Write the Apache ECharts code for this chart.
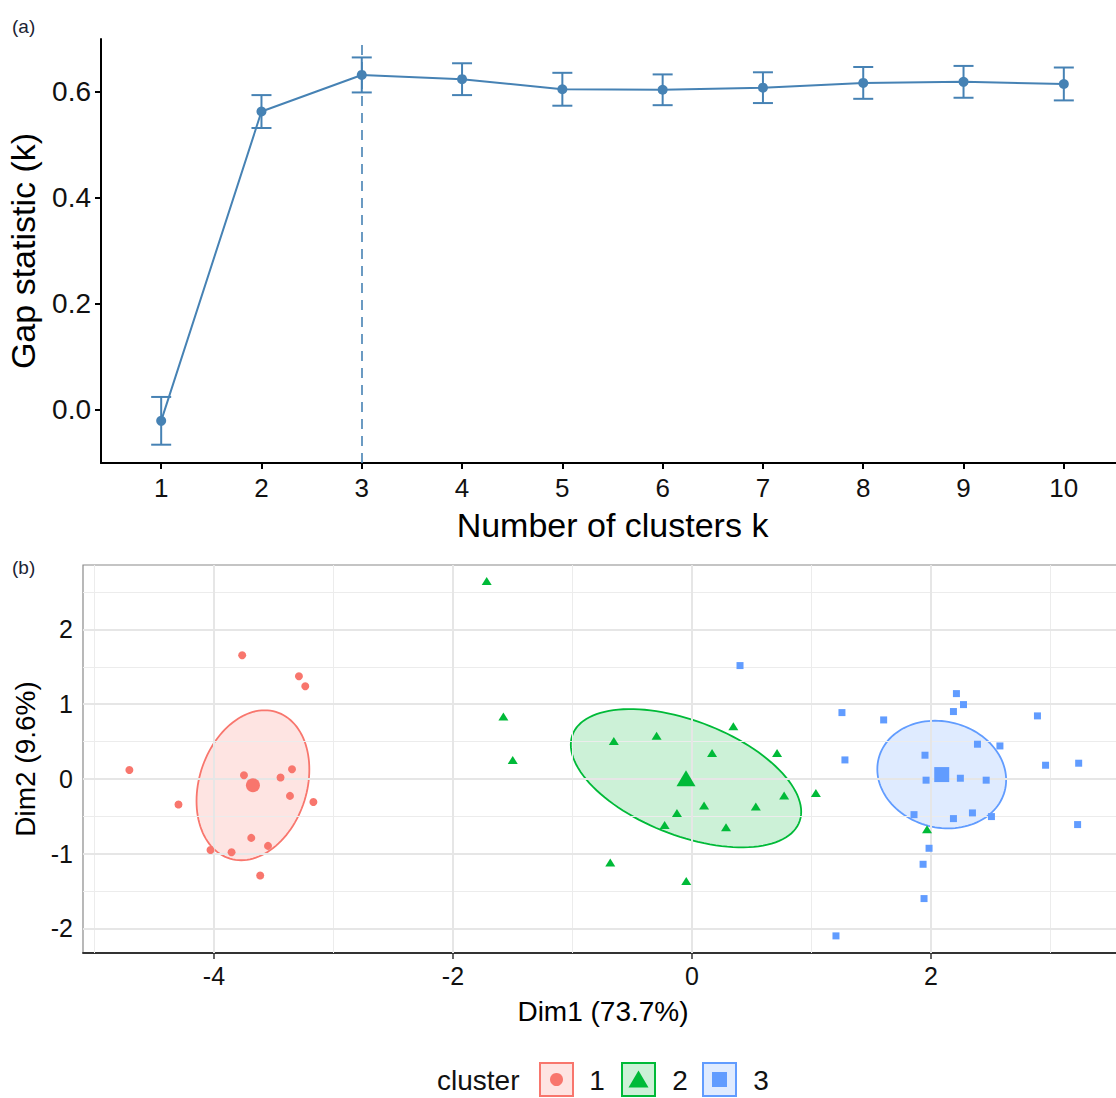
<!DOCTYPE html>
<html><head><meta charset="utf-8">
<script src="https://cdn.jsdelivr.net/npm/echarts@6/dist/echarts.min.js"></script>
<style>html,body{margin:0;padding:0;background:#fff}#c{width:1116px;height:1098px}</style>
</head><body><div id="c"></div>
<script>
// ---------- Panel (a): gap statistic ----------
const kValues = [1, 2, 3, 4, 5, 6, 7, 8, 9, 10];
const gapValues = [-0.021, 0.562, 0.631, 0.623, 0.604, 0.603, 0.607, 0.616, 0.618, 0.614];
const gapSE = [0.045, 0.031, 0.033, 0.030, 0.031, 0.029, 0.029, 0.030, 0.030, 0.031];
const optimalK = 3;
const gapYTicks = [0.0, 0.2, 0.4, 0.6];

// ---------- Panel (b): cluster plot ----------
const cluster1X = [-3.764, -3.289, -3.236, -4.708, -3.749, -3.443, -3.347, -3.364, -3.168, -4.297, -3.688, -3.548, -4.029, -3.853, -3.613];
const cluster1Y = [1.655, 1.374, 1.240, 0.120, 0.049, 0.018, 0.129, -0.227, -0.308, -0.343, -0.789, -0.896, -0.950, -0.981, -1.293];
const cluster2X = [-1.718, -1.578, -1.500, -0.654, -0.296, 0.346, 0.168, 0.712, 0.771, 1.037, 0.534, 0.101, -0.126, -0.229, 0.285, -0.684, -0.048, 1.967];
const cluster2Y = [2.649, 0.834, 0.254, 0.508, 0.579, 0.705, 0.348, 0.348, -0.223, -0.187, -0.370, -0.357, -0.455, -0.615, -0.646, -1.119, -1.365, -0.673];
const cluster3X = [2.213, 2.272, 2.188, 1.255, 1.604, 2.891, 2.389, 2.577, 1.950, 1.280, 1.959, 2.246, 2.462, 2.959, 3.236, 1.858, 2.188, 2.347, 2.506, 3.227, 1.984, 1.934, 1.942, 1.205, 0.402];
const cluster3Y = [1.141, 0.994, 0.901, 0.887, 0.789, 0.843, 0.464, 0.441, 0.317, 0.254, -0.017, 0.009, -0.017, 0.183, 0.210, -0.478, -0.531, -0.455, -0.504, -0.611, -0.928, -1.142, -1.601, -2.100, 1.516];
const clusterNames = ['1', '2', '3'];
const centroidX = [-3.674, -0.050, 2.090];
const centroidY = [-0.085, 0.009, 0.058];
const ellipseSX = [0.472, 0.964, 0.539];
const ellipseSY = [1.003, 0.925, 0.720];
const ellipseR = [0.21, -0.485, -0.10];
const dim1Ticks = [-4, -2, 0, 2];
const dim2Ticks = [-2, -1, 0, 1, 2];
const dim1Minor = [-5, -3, -1, 1, 3];
const dim2Minor = [-2.5, -1.5, -0.5, 0.5, 1.5, 2.5];

const FONT = '"Liberation Sans", Arial, Helvetica, sans-serif';
const steel = '#4682B4';
const colors = ['#F8766D', '#00BA38', '#619CFF'];
const fills = ['rgba(248,118,109,0.2)', 'rgba(0,186,56,0.2)', 'rgba(97,156,255,0.2)'];

const zip = (xs, ys) => xs.map((x, i) => [x, ys[i]]);
const clusterPts = [zip(cluster1X, cluster1Y), zip(cluster2X, cluster2Y), zip(cluster3X, cluster3Y)];
const symbols = ['circle', 'triangle', 'rect'];
const ptSizes = [8, [10, 8], 7];
const cenSizes = [14, [19, 16], 15];

const series = [];

// error bars
series.push({
  type: 'custom', xAxisIndex: 0, yAxisIndex: 0, z: 3, silent: true,
  data: kValues.map((k, i) => [k, gapValues[i] - gapSE[i], gapValues[i] + gapSE[i]]),
  encode: { x: 0, y: [1, 2] },
  renderItem: function (params, api) {
    const x = api.value(0);
    const lo = api.coord([x, api.value(1)]);
    const hi = api.coord([x, api.value(2)]);
    const w = 10;
    const st = { stroke: steel, lineWidth: 2 };
    return { type: 'group', children: [
      { type: 'line', shape: { x1: lo[0], y1: lo[1], x2: hi[0], y2: hi[1] }, style: st },
      { type: 'line', shape: { x1: lo[0] - w, y1: lo[1], x2: lo[0] + w, y2: lo[1] }, style: st },
      { type: 'line', shape: { x1: hi[0] - w, y1: hi[1], x2: hi[0] + w, y2: hi[1] }, style: st }
    ] };
  }
});
// gap line
series.push({
  type: 'line', xAxisIndex: 0, yAxisIndex: 0, z: 4,
  data: zip(kValues, gapValues),
  lineStyle: { color: steel, width: 2 },
  itemStyle: { color: steel },
  symbol: 'circle', symbolSize: 10, showSymbol: true,
  markLine: {
    silent: true, symbol: 'none', label: { show: false },
    lineStyle: { color: steel, width: 1.6, type: [10, 7] },
    data: [{ xAxis: optimalK }]
  }
});

// panel b grid lines (minor + major) via markLine
series.push({
  type: 'scatter', xAxisIndex: 1, yAxisIndex: 1, z: 0, data: [], silent: true,
  markLine: {
    silent: true, symbol: 'none', label: { show: false }, animation: false,
    data: [].concat(
      dim1Minor.map(v => ({ xAxis: v, lineStyle: { color: '#ECECEC', width: 1, type: 'solid' } })),
      dim2Minor.map(v => ({ yAxis: v, lineStyle: { color: '#ECECEC', width: 1, type: 'solid' } })),
      dim1Ticks.map(v => ({ xAxis: v, lineStyle: { color: '#E6E6E6', width: 2, type: 'solid' } })),
      dim2Ticks.map(v => ({ yAxis: v, lineStyle: { color: '#E6E6E6', width: 2, type: 'solid' } }))
    )
  }
});

// ellipses
series.push({
  type: 'custom', xAxisIndex: 1, yAxisIndex: 1, z: 2, silent: true,
  data: centroidX.map((cx, i) => [cx, centroidY[i], ellipseSX[i], ellipseSY[i], ellipseR[i], i]),
  encode: { x: 0, y: 1 },
  renderItem: function (params, api) {
    const cx = api.value(0), cy = api.value(1), sx = api.value(2), sy = api.value(3), r = api.value(4), idx = api.value(5);
    const pts = [];
    const q = Math.sqrt(1 - r * r);
    for (let j = 0; j < 120; j++) {
      const t = j / 120 * Math.PI * 2;
      pts.push(api.coord([cx + sx * Math.cos(t), cy + sy * (r * Math.cos(t) + q * Math.sin(t))]));
    }
    return { type: 'polygon', shape: { points: pts },
      style: { fill: fills[idx], stroke: colors[idx], lineWidth: 1.8 } };
  }
});

// points
for (let c = 0; c < 3; c++) {
  series.push({
    type: 'scatter', xAxisIndex: 1, yAxisIndex: 1, z: 5, name: clusterNames[c],
    data: clusterPts[c], symbol: symbols[c], symbolSize: ptSizes[c],
    itemStyle: { color: colors[c], opacity: 1 }
  });
  series.push({
    type: 'scatter', xAxisIndex: 1, yAxisIndex: 1, z: 6,
    data: [[centroidX[c], centroidY[c]]], symbol: symbols[c], symbolSize: cenSizes[c],
    itemStyle: { color: colors[c], opacity: 1 }
  });
}

const legendGraphics = [
  { type: 'text', x: 437, y: 1080, style: { text: 'cluster', font: '28px ' + FONT, fill: '#111', align: 'left', verticalAlign: 'middle' } }
];
const boxX = [540, 622, 703];
const numX = [597, 680, 761];
for (let c = 0; c < 3; c++) {
  const bx = boxX[c], cxm = bx + 16.5, cym = 1079.5;
  legendGraphics.push({ type: 'rect', shape: { x: bx, y: 1063, width: 33, height: 33 },
    style: { fill: fills[c], stroke: colors[c], lineWidth: 2 } });
  let sym;
  if (c === 0) sym = { type: 'circle', shape: { cx: cxm, cy: cym, r: 6.5 }, style: { fill: colors[c] } };
  else if (c === 1) sym = { type: 'polygon', shape: { points: [[cxm, cym - 9], [cxm + 10, cym + 8], [cxm - 10, cym + 8]] }, style: { fill: colors[c] } };
  else sym = { type: 'rect', shape: { x: cxm - 7.5, y: cym - 7.5, width: 15, height: 15 }, style: { fill: colors[c] } };
  legendGraphics.push(sym);
  legendGraphics.push({ type: 'text', x: numX[c], y: 1080, style: { text: clusterNames[c], font: '28px ' + FONT, fill: '#111', align: 'center', verticalAlign: 'middle' } });
}

const option = {
  animation: false,
  backgroundColor: '#fff',
  textStyle: { fontFamily: FONT },
  grid: [
    { left: 101, top: 39, width: 1023, height: 424, containLabel: false, outerBoundsMode: 'none' },
    { left: 83, top: 565, width: 1040, height: 388, containLabel: false, outerBoundsMode: 'none', show: true, borderColor: '#8a8a8a', borderWidth: 1.2, backgroundColor: 'transparent' }
  ],
  xAxis: [
    { gridIndex: 0, type: 'value', min: 0.4, max: 10.6,
      name: 'Number of clusters k', nameLocation: 'middle', nameGap: 45,
      nameTextStyle: { fontSize: 34, color: '#000', fontFamily: FONT },
      axisLine: { show: true, onZero: false, lineStyle: { color: '#000', width: 2 } },
      axisTick: { show: true, length: 6, lineStyle: { color: '#000', width: 2 }, customValues: kValues },
      axisLabel: { show: true, fontSize: 26, color: '#111', margin: 12, customValues: kValues, fontFamily: FONT },
      splitLine: { show: false } },
    { gridIndex: 1, type: 'value', min: -5.096, max: -5.096 + 1040 / 119.5,
      name: 'Dim1 (73.7%)', nameLocation: 'middle', nameGap: 44,
      nameTextStyle: { fontSize: 28, color: '#000', fontFamily: FONT },
      axisLine: { show: true, onZero: false, lineStyle: { color: '#333', width: 1.8 } },
      axisTick: { show: true, length: 6, lineStyle: { color: '#333', width: 1.5 }, customValues: dim1Ticks },
      axisLabel: { show: true, fontSize: 25, color: '#111', margin: 10, customValues: dim1Ticks, fontFamily: FONT },
      splitLine: { show: false } }
  ],
  yAxis: [
    { gridIndex: 0, type: 'value', min: -0.1005, max: -0.1005 + 424 / 530.5,
      name: 'Gap statistic (k)', nameLocation: 'middle', nameGap: 61,
      nameTextStyle: { fontSize: 34, color: '#000', fontFamily: FONT },
      axisLine: { show: true, onZero: false, lineStyle: { color: '#000', width: 2 } },
      axisTick: { show: true, length: 6, lineStyle: { color: '#000', width: 2 }, customValues: gapYTicks },
      axisLabel: { show: true, fontSize: 28, color: '#111', margin: 10, customValues: gapYTicks, fontFamily: FONT,
        formatter: v => (Math.abs(v) < 1e-9 ? 0 : v).toFixed(1) },
      splitLine: { show: false } },
    { gridIndex: 1, type: 'value', min: -2.329, max: -2.329 + 388 / 74.75,
      name: 'Dim2 (9.6%)', nameLocation: 'middle', nameGap: 44,
      nameTextStyle: { fontSize: 28, color: '#000', fontFamily: FONT },
      axisLine: { show: false },
      axisTick: { show: true, length: 6, lineStyle: { color: '#333', width: 1.5 }, customValues: dim2Ticks },
      axisLabel: { show: true, fontSize: 25, color: '#111', margin: 10, customValues: dim2Ticks, fontFamily: FONT },
      splitLine: { show: false } }
  ],
  graphic: [
    { type: 'text', x: 12, y: 26, style: { text: '(a)', font: '19px ' + FONT, fill: '#1c2333', align: 'left', verticalAlign: 'middle' } },
    { type: 'text', x: 12, y: 567, style: { text: '(b)', font: '19px ' + FONT, fill: '#1c2333', align: 'left', verticalAlign: 'middle' } }
  ].concat(legendGraphics),
  series: series
};

const chart = echarts.init(document.getElementById('c'), null, { renderer: 'svg', width: 1116, height: 1098 });
chart.setOption(option);
</script>
</body></html>
